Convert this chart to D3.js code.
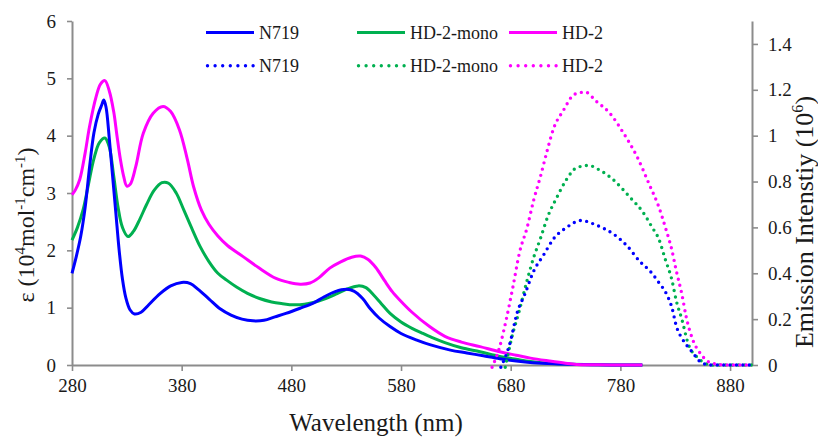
<!DOCTYPE html>
<html>
<head>
<meta charset="utf-8">
<script src="https://cdn.jsdelivr.net/npm/d3@7"></script>
<style>
  html, body { margin: 0; padding: 0; background: #fff; }
</style>
</head>
<body>
<svg id="chart" width="818" height="438"></svg>
<script>
// Absorption spectra (left axis, ε in 10^4 M^-1 cm^-1)
const absN719Nm  = [280,284,288,292,296,300,304,307,309,311,314,317,320,323,326,329,333,337,343,350,360,370,380,388,395,405,415,425,435,445,455,465,475,488,500,510,520,530,537,545,552,560,570,580,595,607,625,640,655,670,685,700,720,740,760,780,800];
const absN719    = [1.60,1.90,2.25,2.75,3.45,4.05,4.38,4.53,4.62,4.50,3.95,3.30,2.65,2.00,1.50,1.18,0.96,0.89,0.92,1.05,1.24,1.38,1.44,1.42,1.32,1.15,0.98,0.87,0.80,0.77,0.78,0.84,0.90,0.99,1.08,1.19,1.28,1.32,1.29,1.16,0.98,0.82,0.67,0.55,0.43,0.35,0.26,0.21,0.16,0.11,0.07,0.04,0.02,0.01,0.005,0,0];

const absMonoNm  = [280,285,290,295,300,305,310,314,318,322,326,331,336,342,348,355,362,368,375,382,390,397,405,413,421,430,440,451,462,472,482,492,500,510,520,530,541,548,555,562,570,580,590,600,607,620,635,652,670,685,698,715,735,760,780,800];
const absMono    = [2.18,2.40,2.70,3.15,3.60,3.88,3.96,3.80,3.30,2.75,2.40,2.24,2.33,2.55,2.80,3.05,3.18,3.17,3.00,2.70,2.35,2.06,1.80,1.60,1.48,1.36,1.25,1.16,1.10,1.07,1.05,1.06,1.09,1.15,1.23,1.32,1.38,1.35,1.22,1.07,0.90,0.75,0.64,0.55,0.49,0.39,0.30,0.23,0.15,0.10,0.06,0.03,0.015,0.005,0,0];

const absHD2Nm   = [280,283,287,292,296,302,306,310,314,318,321,324,327,330,333,338,345,354,363,370,378,385,391,398,405,413,422,436,450,466,478,488,497,505,515,525,535,543,550,557,565,572,579,590,606,620,635,652,670,685,698,715,730,740,760,780,800];
const absHD2     = [2.97,3.05,3.23,3.70,4.16,4.68,4.90,4.96,4.78,4.42,4.00,3.60,3.30,3.12,3.15,3.45,4.04,4.39,4.51,4.42,4.10,3.60,3.10,2.70,2.45,2.25,2.08,1.89,1.70,1.51,1.44,1.41,1.43,1.52,1.69,1.80,1.88,1.90,1.84,1.70,1.47,1.28,1.13,0.92,0.67,0.50,0.40,0.32,0.23,0.17,0.12,0.07,0.03,0.01,0.005,0,0];

// Emission spectra (right axis, intensity in 10^6)
const emN719Nm   = [671,679,686,693,701,710,719,731,744,758,774,786,798,807,815,822,827,831,837,845,854,862,880,900];
const emN719     = [-0.01,0.09,0.23,0.31,0.41,0.48,0.55,0.60,0.63,0.61,0.57,0.52,0.45,0.41,0.36,0.31,0.25,0.17,0.11,0.06,0.01,0,0,0];

const emMonoNm   = [675,681,688,695,701,707,714,722,731,740,751,761,773,789,800,809,815,821,827,831,836,842,851,863,880,900];
const emMono     = [-0.01,0.12,0.24,0.37,0.47,0.55,0.65,0.73,0.81,0.86,0.87,0.85,0.81,0.73,0.67,0.60,0.55,0.46,0.37,0.28,0.20,0.09,0.03,0,0,0];

const emHD2Nm    = [663,670,676,682,688,695,701,707,713,719,728,738,748,758,770,783,795,807,815,821,827,831,836,840,846,853,860,866,875,900];
const emHD2      = [-0.01,0.08,0.20,0.34,0.49,0.60,0.72,0.82,0.93,1.03,1.11,1.18,1.19,1.15,1.10,1.01,0.91,0.78,0.69,0.60,0.50,0.41,0.31,0.21,0.11,0.05,0.015,0.005,0,0];

const seriesNames  = ["N719", "HD-2-mono", "HD-2"];
const seriesColors = ["#0000ff", "#00b050", "#ff00ff"];

const xTicks      = [280, 380, 480, 580, 680, 780, 880];
const yLeftTicks  = [0, 1, 2, 3, 4, 5, 6];
const yRightTicks = [0, 0.2, 0.4, 0.6, 0.8, 1, 1.2, 1.4];

const FONT = '"Liberation Serif", "Times New Roman", serif';
const svg = d3.select("#chart");
const axisColor = "#8c8c8c";
const textColor = "#1a1a1a";

const x  = d3.scaleLinear().domain([280, 900]).range([72, 752]);
const yL = d3.scaleLinear().domain([0, 6]).range([365, 21]);
const yR = d3.scaleLinear().domain([0, 1.5]).range([365, 21]);

function zipPts(nm, v) { return nm.map((n, i) => [n, v[i]]); }
function serif(sel, size) { return sel.style("font-family", FONT).style("font-size", size + "px"); }

// axes
const gx = svg.append("g").attr("transform", "translate(0,365)")
  .call(d3.axisBottom(x).tickValues(xTicks).tickFormat(d3.format("d")).tickSize(6).tickSizeOuter(0).tickPadding(8));
const gl = svg.append("g").attr("transform", "translate(72,0)")
  .call(d3.axisLeft(yL).tickValues(yLeftTicks).tickFormat(d3.format("d")).tickSize(5).tickSizeOuter(0).tickPadding(11));
const gr = svg.append("g").attr("transform", "translate(752,0)")
  .call(d3.axisRight(yR).tickValues(yRightTicks).tickFormat(d => String(+d.toFixed(1))).tickSize(6).tickSizeOuter(0).tickPadding(10));

[gx, gl, gr].forEach(g => {
  g.select(".domain").attr("stroke", axisColor).attr("stroke-width", 2);
  g.selectAll(".tick line").attr("stroke", axisColor).attr("stroke-width", 1.6);
  g.selectAll(".tick text").attr("fill", textColor).call(serif, 19);
});

// curves
const lineL = d3.line().x(d => x(d[0])).y(d => yL(d[1])).curve(d3.curveCatmullRom.alpha(0.5));
const lineR = d3.line().x(d => x(d[0])).y(d => yR(d[1])).curve(d3.curveMonotoneX);

const absData = [zipPts(absN719Nm, absN719), zipPts(absMonoNm, absMono), zipPts(absHD2Nm, absHD2)];
const emData  = [zipPts(emN719Nm, emN719), zipPts(emMonoNm, emMono), zipPts(emHD2Nm, emHD2)];

const dotStyle = (sel) => sel.attr("stroke-width", 3.4).attr("stroke-linecap", "round").attr("stroke-dasharray", "0,6.4");

const order = [1, 0, 2];
order.forEach(i => {
  svg.append("path").datum(absData[i]).attr("d", lineL)
    .attr("fill", "none").attr("stroke", seriesColors[i]).attr("stroke-width", 3);
});
order.forEach(i => {
  svg.append("path").datum(emData[i]).attr("d", lineR)
    .attr("fill", "none").attr("stroke", seriesColors[i]).call(dotStyle);
});

// legend
const legX = [206, 357, 509];
const legRows = [32.5, 65.7];
seriesNames.forEach((name, i) => {
  legRows.forEach((ry, r) => {
    const ln = svg.append("line")
      .attr("x1", legX[i]).attr("x2", legX[i] + 48).attr("y1", ry).attr("y2", ry)
      .attr("stroke", seriesColors[i]);
    if (r === 0) ln.attr("stroke-width", 3.2);
    else { ln.attr("x1", legX[i] + 1.5).call(dotStyle).attr("stroke-dasharray", "0,7.6"); }
    svg.append("text").attr("x", legX[i] + 53).attr("y", ry + 6.3)
      .attr("fill", textColor).call(serif, 18).text(name);
  });
});

// axis titles
svg.append("text").attr("x", 376).attr("y", 431).attr("text-anchor", "middle")
  .attr("fill", textColor).call(serif, 25).text("Wavelength (nm)");

function supTitle(parts, tx, ty, size) {
  const t = svg.append("text").attr("transform", `translate(${tx},${ty}) rotate(-90)`)
    .attr("text-anchor", "middle").attr("fill", textColor).call(serif, size);
  let shift = 0;
  parts.forEach(([s, sup]) => {
    const target = sup ? -size * 0.38 : 0;
    const sp = t.append("tspan").attr("dy", target - shift).text(s);
    if (sup) sp.style("font-size", (size * 0.62) + "px");
    shift = target;
  });
  return t;
}
supTitle([["\u03b5 (10", false], ["4", true], ["mol", false], ["-1", true], ["cm", false], ["-1", true], [")", false]], 34, 225, 24);
supTitle([["Emission Intenstiy (10", false], ["6", true], [")", false]], 813, 222, 26);
</script>
</body>
</html>
